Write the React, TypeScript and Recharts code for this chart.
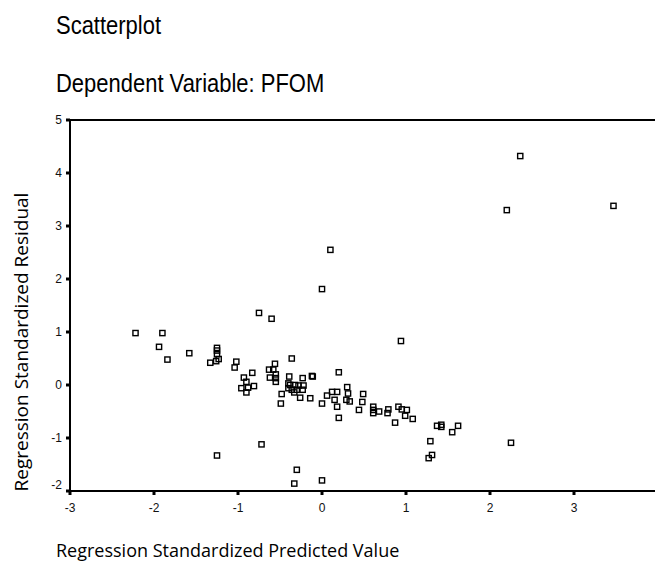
import React from "react";
import {
  ScatterChart,
  Scatter,
  XAxis,
  YAxis,
  ReferenceLine,
} from "recharts";

// Regression Standardized Predicted Value
const predicted = [
  -2.22, -1.9, -1.94, -1.84, -1.58, -1.25, -1.25, -1.25, -1.23, -1.33,
  -1.26, -1.02, -1.04, -0.83, -0.93, -0.9, -0.81, -0.96, -0.88, -0.9,
  -0.75, -0.6, -0.56, -0.63, -0.58, -0.55, -0.62, -0.55, -0.55, -0.36,
  -0.39, -0.4, -0.4, -0.48, -0.49, -0.23, -0.12, -0.11, -0.32, -0.28,
  -0.22, -0.36, -0.3, -0.23, -0.33, -0.26, -0.14, 0.0, 0.06, 0.12,
  0.18, 0.15, 0.18, 0.2, 0.2, 0.3, 0.31, 0.29, 0.33, 0.49,
  0.48, 0.44, 0.61, 0.61, 0.61, 0.68, 0.78, 0.79, 0.91, 0.95,
  1.01, 0.99, 1.08, 0.87, 1.37, 1.42, 1.42, 1.55, 1.62, 1.29,
  1.31, 1.27, 0.94, 0.1, 0.0, 2.36, 2.2, 3.47, 2.25, -0.72,
  -1.25, -0.3, -0.33, 0.0, -0.38,
];

// Regression Standardized Residual
const residual = [
  0.98, 0.98, 0.72, 0.48, 0.6, 0.7, 0.65, 0.58, 0.49, 0.42,
  0.45, 0.44, 0.33, 0.23, 0.14, 0.06, -0.02, -0.06, -0.05, -0.14,
  1.36, 1.25, 0.4, 0.29, 0.29, 0.2, 0.14, 0.13, 0.06, 0.5,
  0.16, 0.03, -0.06, -0.17, -0.35, 0.13, 0.17, 0.16, 0.0, -0.01,
  -0.01, -0.09, -0.09, -0.09, -0.14, -0.24, -0.25, -0.35, -0.2, -0.13,
  -0.13, -0.28, -0.41, -0.62, 0.24, -0.04, -0.16, -0.28, -0.31, -0.17,
  -0.32, -0.47, -0.41, -0.47, -0.53, -0.5, -0.53, -0.46, -0.41, -0.46,
  -0.47, -0.58, -0.64, -0.71, -0.77, -0.75, -0.79, -0.89, -0.77, -1.06,
  -1.32, -1.38, 0.83, 2.55, 1.81, 4.32, 3.3, 3.38, -1.09, -1.12,
  -1.33, -1.6, -1.86, -1.8, 0.0,
];

const xTicks = [-3, -2, -1, 0, 1, 2, 3];
const yTicks = [-2, -1, 0, 1, 2, 3, 4, 5];

const points = predicted.map((x, i) => ({ x, y: residual[i] }));

const tickFont = "'Liberation Sans', Arial, sans-serif";
const labelFont = "'Open Sans', 'Liberation Sans', sans-serif";

const SquareMarker = (props: any) => {
  const { cx, cy } = props;
  if (cx == null || cy == null) return null;
  return (
    <rect
      x={cx - 2.6}
      y={cy - 2.6}
      width={5.2}
      height={5.2}
      fill="none"
      stroke="#000"
      strokeWidth={1.4}
    />
  );
};

const YTick = (props: any) => {
  const { x, y, payload } = props;
  // bottom label sits a little above the axis corner
  const shift = payload.value === -2 ? -6 : 0;
  return (
    <text
      x={x}
      y={y + shift}
      dy="0.355em"
      textAnchor="end"
      fontSize={12}
      fontFamily={tickFont}
      fill="#111"
    >
      {payload.value}
    </text>
  );
};

const titleStyle: React.CSSProperties = {
  position: "absolute",
  left: 56,
  fontFamily: "'Liberation Sans', Arial, sans-serif",
  fontSize: 26,
  lineHeight: "26px",
  whiteSpace: "nowrap",
  transform: "scaleX(0.845)",
  transformOrigin: "left center",
};

export default function App() {
  return (
    <div
      style={{
        position: "fixed",
        left: 0,
        top: 0,
        width: 655,
        height: 570,
        overflow: "hidden",
        background: "#fff",
      }}
    >
      <div style={{ ...titleStyle, top: 12 }}>Scatterplot</div>
      <div style={{ ...titleStyle, top: 70 }}>Dependent Variable: PFOM</div>

      <div style={{ position: "absolute", left: 0, top: 0 }}>
        <ScatterChart
          width={700}
          height={570}
          margin={{ top: 120, right: 42, bottom: 0, left: 0 }}
        >
          <XAxis
            type="number"
            dataKey="x"
            domain={[-3, 4]}
            ticks={xTicks}
            height={79}
            axisLine={{ stroke: "#000", strokeWidth: 2 }}
            tickLine={{ stroke: "#000", strokeWidth: 3 }}
            tickSize={4}
            tickMargin={8}
            tick={{ fontSize: 12, fontFamily: tickFont, fill: "#111" }}
            interval={0}
          />
          <YAxis
            type="number"
            dataKey="y"
            domain={[-2, 5]}
            ticks={yTicks}
            width={70}
            axisLine={{ stroke: "#000", strokeWidth: 2 }}
            tickLine={{ stroke: "#000", strokeWidth: 3 }}
            tickSize={4}
            tickMargin={4}
            tick={<YTick />}
            interval={0}
          />
          <ReferenceLine y={5} stroke="#000" strokeWidth={2} ifOverflow="visible" />
          <Scatter data={points} shape={<SquareMarker />} isAnimationActive={false} />
        </ScatterChart>
      </div>

      <div
        style={{
          position: "absolute",
          left: 21 - 200,
          top: 342 - 10,
          width: 400,
          height: 20,
          lineHeight: "20px",
          textAlign: "center",
          transform: "rotate(-90deg)",
          transformOrigin: "center",
          fontFamily: labelFont,
          fontSize: 19,
          whiteSpace: "nowrap",
        }}
      >
        Regression Standardized Residual
      </div>
      <div
        style={{
          position: "absolute",
          left: 56,
          top: 540,
          lineHeight: "20px",
          fontFamily: labelFont,
          fontSize: 18,
          whiteSpace: "nowrap",
        }}
      >
        Regression Standardized Predicted Value
      </div>
    </div>
  );
}
